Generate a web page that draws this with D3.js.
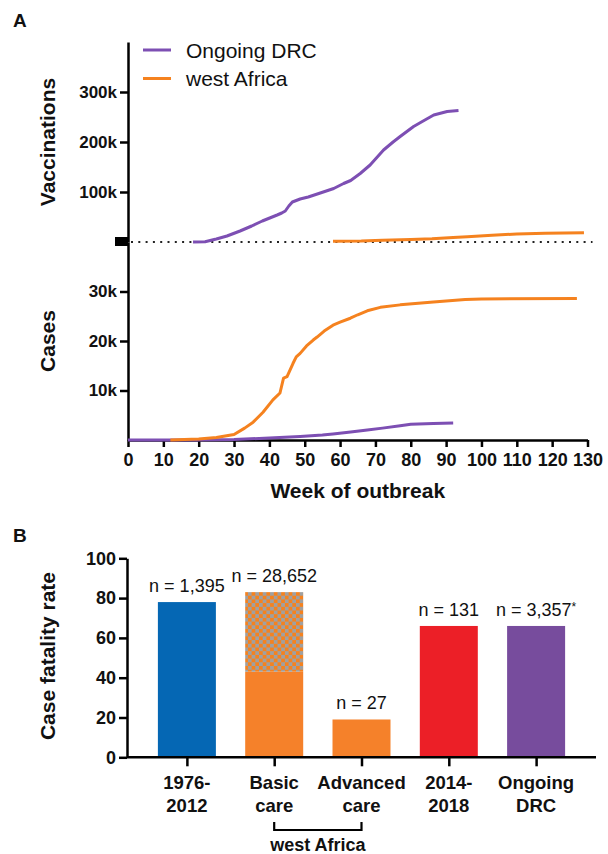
<!DOCTYPE html>
<html><head><meta charset="utf-8">
<script src="https://cdn.jsdelivr.net/npm/d3@7"></script>
<style>body{margin:0;background:#fff} svg{display:block} text{font-family:"Liberation Sans",Arial,Helvetica,sans-serif;fill:#111}</style>
</head><body><svg id="c" width="608" height="854"></svg>
<script>
// ---------- data ----------
const weekTicks = d3.range(0, 131, 10);
const vaccTicks = [100000, 200000, 300000];
const caseTicks = [10000, 20000, 30000];
const seriesNames = ["Ongoing DRC", "west Africa"];

// [week, vaccinations]
const drcVacc = [[18.4,0],[21.8,500],[25,6000],[28,12000],[31.7,22000],[35,32000],[38,42000],[42.2,54000],[43.5,58000],[44.5,62000],[45.5,72000],[46.5,80000],[48.7,86000],[51,90000],[54.4,98000],[58.2,107000],[61,117000],[63,123000],[65.7,137000],[68.5,154000],[72.3,184000],[75,200000],[77,211000],[80.8,231000],[84,244000],[86.5,254000],[90.3,261000],[93.5,263000]];
const waVacc = [[58,1500],[66,2000],[72,3500],[80,5000],[86,6500],[92,9000],[96,10500],[103,13500],[110,16000],[118,17500],[129,18500]];
// [week, cases]
const drcCases = [[0,0],[20,0],[30,100],[40,400],[48.7,700],[55,1000],[58,1200],[63,1600],[67.7,2000],[72,2400],[77,2900],[80,3200],[86.4,3350],[92,3450]];
const waCases = [[12,0],[20,200],[25,500],[30,1100],[33,2400],[35.4,3600],[38.2,5600],[41,8100],[43,9500],[44,12500],[45,12800],[46.7,15500],[47.6,16800],[48.7,17500],[50.5,19000],[52.4,20200],[53.5,20800],[55.5,22000],[58,23200],[60,23800],[62.9,24600],[65,25300],[67.7,26100],[71.4,26800],[77,27300],[86.4,27900],[95.4,28400],[100,28500],[127,28600]];

const cfrCategories = [["1976-","2012"],["Basic","care"],["Advanced","care"],["2014-","2018"],["Ongoing","DRC"]];
const cfrValues = [78, 83, 19, 66, 66];
const cfrSolidPart = [78, 43, 19, 66, 66];   // solid fill height; rest is checkered
const cfrLabels = ["n = 1,395", "n = 28,652", "n = 27", "n = 131", "n = 3,357"];
const cfrLabelMarks = ["", "", "", "", "*"];
const cfrTicks = [0, 20, 40, 60, 80, 100];

const purple = "#7d4fb3", orange = "#f5821f";
const barColors = ["#0567b4", "#f5812a", "#f5812a", "#ec1f27", "#774c9d"];

// ---------- svg ----------
const svg = d3.select("#c");
const defs = svg.append("defs");
const pat = defs.append("pattern").attr("id","checker").attr("patternUnits","userSpaceOnUse")
  .attr("width",7.4).attr("height",7.4);
pat.append("rect").attr("width",7.4).attr("height",7.4).attr("fill","#a0a0a0");
pat.append("rect").attr("width",3.7).attr("height",3.7).attr("fill",orange);
pat.append("rect").attr("x",3.7).attr("y",3.7).attr("width",3.7).attr("height",3.7).attr("fill",orange);

// ---------- Panel A ----------
const x = d3.scaleLinear().domain([0,130]).range([128,587.5]);
const yV = d3.scaleLinear().domain([0,400000]).range([242,42]);
const yC = d3.scaleLinear().domain([0,40000]).range([440,242]);
const kfmt = d => (d/1000) + "k";

function styleAxis(g, fs){
  g.selectAll("path,line").attr("stroke","#000").attr("stroke-width",2.5);
  g.selectAll("text").attr("font-size",fs).attr("font-weight","bold").attr("fill","#111")
   .attr("font-family",'"Liberation Sans",Arial,sans-serif');
}

svg.append("text").attr("x",13).attr("y",27).attr("font-size",19).attr("font-weight","bold").text("A");

// dotted zero line
svg.append("line").attr("x1",x(0)+3).attr("x2",x(130)+5).attr("y1",yV(0)).attr("y2",yV(0))
  .attr("stroke","#222").attr("stroke-width",2).attr("stroke-dasharray","2 5.3");

const gV = svg.append("g").attr("transform",`translate(${x(0)},0)`)
  .call(d3.axisLeft(yV).tickValues(vaccTicks).tickFormat(kfmt).tickSize(8).tickSizeOuter(0).tickPadding(3));
styleAxis(gV,17);
const gC = svg.append("g").attr("transform",`translate(${x(0)},0)`)
  .call(d3.axisLeft(yC).tickValues(caseTicks).tickFormat(kfmt).tickSize(8).tickSizeOuter(0).tickPadding(3));
styleAxis(gC,17);
const gX = svg.append("g").attr("transform",`translate(0,${yC(0)})`)
  .call(d3.axisBottom(x).tickValues(weekTicks).tickSize(7).tickSizeOuter(0).tickPadding(4));
styleAxis(gX,18);
gX.selectAll("text").attr("dy","0.85em");

// break block
svg.append("rect").attr("x",x(0)-13).attr("y",yV(0)-5).attr("width",13).attr("height",9).attr("fill","#000");

const lineV = d3.line().x(d=>x(d[0])).y(d=>yV(d[1]));
const lineC = d3.line().x(d=>x(d[0])).y(d=>yC(d[1]));
function drawLine(data, gen, color){
  svg.append("path").datum(data).attr("d",gen).attr("fill","none")
    .attr("stroke",color).attr("stroke-width",3).attr("stroke-linejoin","round");
}
drawLine(waVacc, lineV, orange);
drawLine(drcVacc, lineV, purple);
drawLine(drcCases, lineC, purple);
drawLine(waCases, lineC, orange);

// axis titles
svg.append("text").attr("transform",`translate(55,142) rotate(-90)`).attr("text-anchor","middle")
  .attr("font-size",21).attr("font-weight","bold").text("Vaccinations");
svg.append("text").attr("transform",`translate(55,341) rotate(-90)`).attr("text-anchor","middle")
  .attr("font-size",21).attr("font-weight","bold").text("Cases");
svg.append("text").attr("x",(x(0)+x(130))/2).attr("y",498).attr("text-anchor","middle")
  .attr("font-size",21).attr("font-weight","bold").text("Week of outbreak");

// legend
const legColors = [purple, orange];
seriesNames.forEach((n,i)=>{
  const yy = 50 + i*28.5;
  svg.append("line").attr("x1",143).attr("x2",171).attr("y1",yy).attr("y2",yy)
    .attr("stroke",legColors[i]).attr("stroke-width",3);
  svg.append("text").attr("x",186).attr("y",yy+7.5).attr("font-size",21).attr("fill","#222").text(n);
});

// ---------- Panel B ----------
svg.append("text").attr("x",13).attr("y",542).attr("font-size",19).attr("font-weight","bold").text("B");

const xb = d3.scalePoint().domain(d3.range(cfrValues.length)).range([127,596]).padding(0.686);
const yb = d3.scaleLinear().domain([0,100]).range([757.3,558.3]);
const bw = 58;

cfrValues.forEach((v,i)=>{
  const cx = xb(i);
  const solid = cfrSolidPart[i];
  svg.append("rect").attr("x",cx-bw/2).attr("width",bw).attr("y",yb(solid)).attr("height",yb(0)-yb(solid))
    .attr("fill",barColors[i]);
  if (v > solid){
    svg.append("rect").attr("x",cx-bw/2).attr("width",bw).attr("y",yb(v)).attr("height",yb(solid)-yb(v))
      .attr("fill","url(#checker)");
  }
  const t = svg.append("text").attr("x",cx).attr("y",yb(v)-10).attr("text-anchor","middle")
    .attr("font-size",18).attr("fill","#333").text(cfrLabels[i]);
  if (cfrLabelMarks[i]) t.append("tspan").attr("font-size",12).attr("dy","-0.45em").text(cfrLabelMarks[i]);
});

const gYB = svg.append("g").attr("transform",`translate(127,0)`)
  .call(d3.axisLeft(yb).tickValues(cfrTicks).tickSize(8).tickSizeOuter(0).tickPadding(3));
styleAxis(gYB,18);
const gXB = svg.append("g").attr("transform",`translate(0,${yb(0)})`)
  .call(d3.axisBottom(xb).tickSize(9).tickSizeOuter(0).tickFormat(""));
styleAxis(gXB,18);
gXB.select(".domain").attr("d",`M127,0H596`);

cfrCategories.forEach((c,i)=>{
  c.forEach((line,j)=>{
    svg.append("text").attr("x",xb(i)).attr("y",789 + j*22.5).attr("text-anchor","middle")
      .attr("font-size",18.5).attr("font-weight","bold").text(line);
  });
});

// west Africa bracket
const bx1 = xb(1), bx2 = xb(2);
svg.append("path").attr("d",`M${bx1},822V830H${bx2}V822`).attr("fill","none").attr("stroke","#000").attr("stroke-width",2.2);
svg.append("text").attr("x",(bx1+bx2)/2).attr("y",851).attr("text-anchor","middle")
  .attr("font-size",18).attr("font-weight","bold").text("west Africa");

svg.append("text").attr("transform",`translate(55,656) rotate(-90)`).attr("text-anchor","middle")
  .attr("font-size",21).attr("font-weight","bold").text("Case fatality rate");
</script></body></html>
